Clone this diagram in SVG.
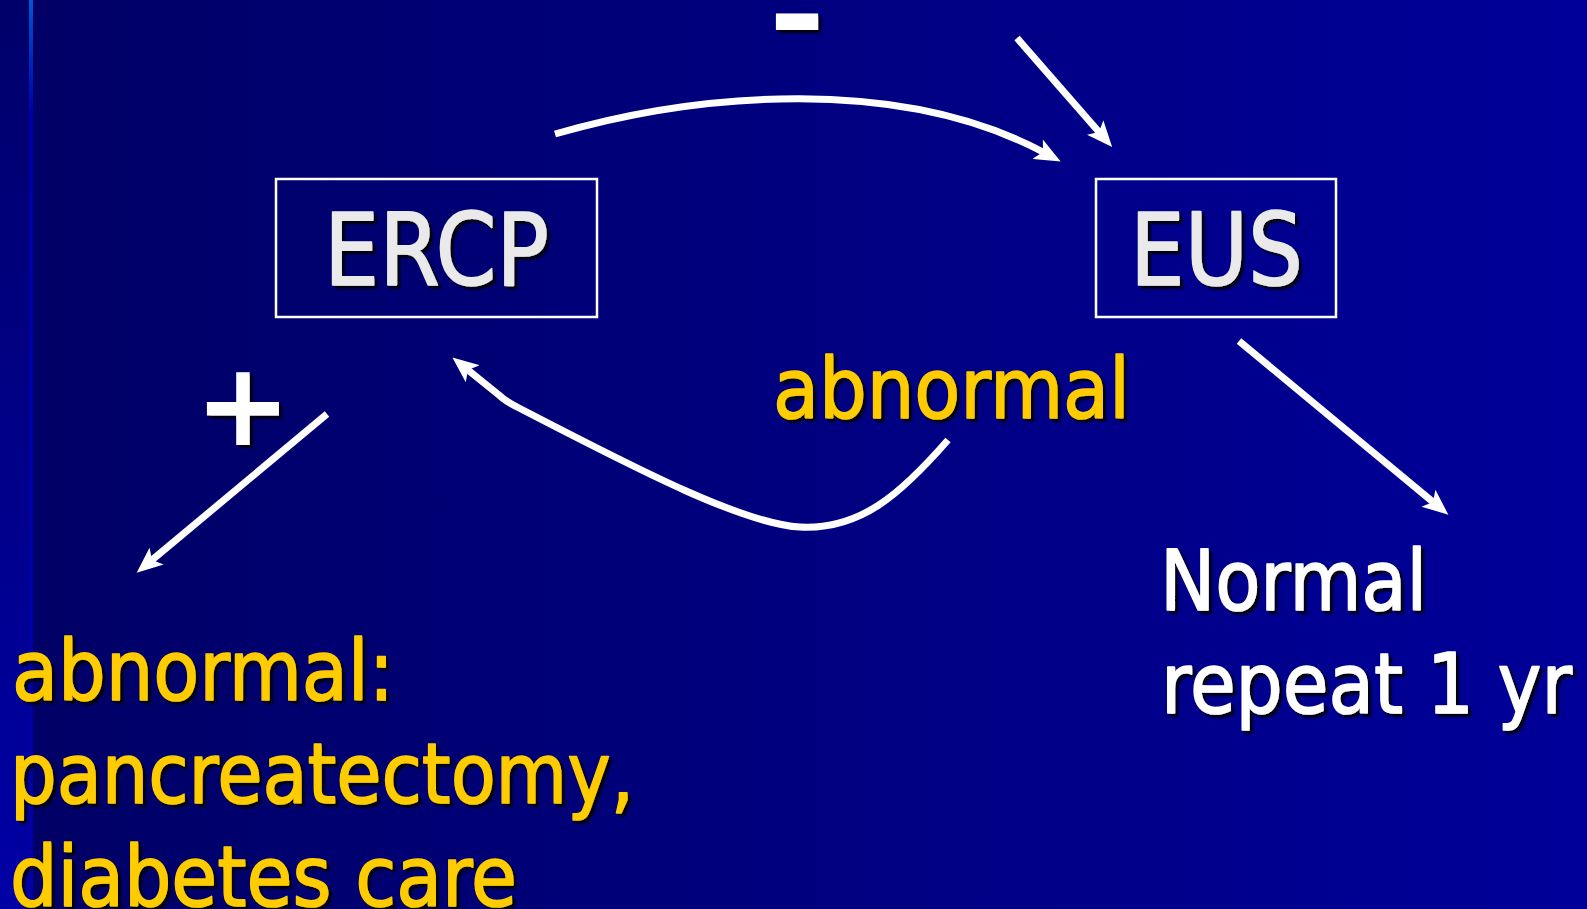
<svg xmlns="http://www.w3.org/2000/svg" width="1587" height="909" viewBox="0 0 1587 909">
  <defs>
    <linearGradient id="bg" x1="0" y1="0" x2="1587" y2="0" gradientUnits="userSpaceOnUse">
      <stop offset="0" stop-color="#000066"/>
      <stop offset="0.02" stop-color="#000066"/>
      <stop offset="1" stop-color="#000099"/>
    </linearGradient>
    <linearGradient id="strip" x1="0" y1="0" x2="0" y2="909" gradientUnits="userSpaceOnUse">
      <stop offset="0" stop-color="#00006a"/>
      <stop offset="1" stop-color="#0000a6"/>
    </linearGradient>
    <linearGradient id="edge" x1="0" y1="0" x2="0" y2="909" gradientUnits="userSpaceOnUse">
      <stop offset="0" stop-color="#0058d0"/>
      <stop offset="0.12" stop-color="#0000aa"/>
      <stop offset="1" stop-color="#0000a6"/>
    </linearGradient>
    <filter id="shadow" x="-10%" y="-20%" width="130%" height="150%">
      <feDropShadow dx="3" dy="3" stdDeviation="0.8" flood-color="#000000" flood-opacity="0.9"/>
    </filter>
    <marker id="head" viewBox="0 0 26 22" markerWidth="26" markerHeight="22" markerUnits="userSpaceOnUse" refX="6" refY="11" orient="auto">
      <path d="M0,0 L26,11 L0,22 L6,11 z" fill="#ffffff"/>
    </marker>
    <style>
      .t { font-family: "DejaVu Sans", Verdana, sans-serif; filter: url(#shadow); stroke-width: 1.6; stroke-linejoin: round; }
      .box { fill: none; stroke: #ffffff; stroke-width: 2.5; }
      .boxtext { font-size: 99px; fill: #eaeaea; stroke: #eaeaea; }
      .yel { font-size: 84px; fill: #ffcc00; stroke: #ffcc00; }
      .wht { font-size: 84px; fill: #ffffff; stroke: #ffffff; }
      .sign { font-family: "DejaVu Sans", sans-serif; font-weight: bold; fill: #ffffff; filter: url(#shadow); }
      .conn { fill: none; stroke: #ffffff; stroke-width: 7; marker-end: url(#head); }
    </style>
  </defs>

  <rect x="0" y="0" width="1587" height="909" fill="url(#bg)"/>
  <rect x="0" y="0" width="29" height="909" fill="url(#strip)"/>
  <rect x="29" y="0" width="4" height="909" fill="url(#edge)"/>

  <g id="connectors">
    <path class="conn" d="M 555 134 C 700 92, 900 76, 1043 152"/>
    <path class="conn" d="M 1017 38 L 1099 132"/>
    <path class="conn" d="M 327 414 L 152 560"/>
    <path class="conn" d="M 1239 341 L 1433 502"/>
    <path class="conn" d="M 948 440 C 900 495, 860 530, 800 527 C 740 524, 620 460, 519 408 Q 505 401, 499 395 L 468 370"/>
  </g>

  <g id="node-ercp">
    <rect class="box" x="276" y="179" width="321" height="138"/>
    <text class="t boxtext" x="324" y="285" textLength="225" lengthAdjust="spacingAndGlyphs">ERCP</text>
  </g>

  <g id="node-eus">
    <rect class="box" x="1096" y="179" width="240" height="138"/>
    <text class="t boxtext" x="1130" y="285" textLength="173" lengthAdjust="spacingAndGlyphs">EUS</text>
  </g>

  <g id="label-minus">
    <text class="sign" x="797" y="55" font-size="115" text-anchor="middle" textLength="57" lengthAdjust="spacingAndGlyphs">-</text>
  </g>

  <g id="label-plus">
    <text class="sign" x="243" y="445" font-size="115" text-anchor="middle">+</text>
  </g>

  <g id="label-abnormal">
    <text class="t yel" x="773" y="418" textLength="357" lengthAdjust="spacingAndGlyphs">abnormal</text>
  </g>

  <g id="node-normal">
    <text class="t wht" x="1160" y="610" textLength="267" lengthAdjust="spacingAndGlyphs">Normal</text>
    <text class="t wht" x="1161" y="713" textLength="411" lengthAdjust="spacingAndGlyphs">repeat 1 yr</text>
  </g>

  <g id="node-abnormal-result">
    <text class="t yel" x="12" y="700" textLength="382" lengthAdjust="spacingAndGlyphs">abnormal:</text>
    <text class="t yel" x="10" y="803" textLength="624" lengthAdjust="spacingAndGlyphs">pancreatectomy,</text>
    <text class="t yel" x="10" y="906" textLength="507" lengthAdjust="spacingAndGlyphs">diabetes care</text>
  </g>
</svg>
